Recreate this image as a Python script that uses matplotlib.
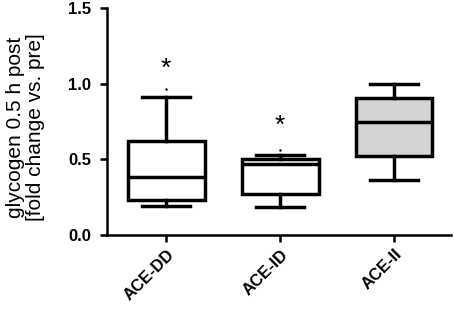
import numpy as np
from matplotlib import pyplot as plt
from matplotlib.transforms import ScaledTranslation

# data
groups = ["ACE-DD", "ACE-ID", "ACE-II"]
whislo = [0.19, 0.185, 0.364]
q1 = [0.231, 0.27, 0.522]
med = [0.383, 0.469, 0.747]
q3 = [0.62, 0.502, 0.905]
whishi = [0.912, 0.529, 1.0]
outliers = [[0.965], [0.56], []]
star_y = [1.10, 0.72, None]
fills = ["white", "white", "#d4d4d4"]

plt.rcParams['font.family'] = ['Liberation Sans', 'DejaVu Sans']

fig = plt.figure(figsize=(4.54, 3.14), dpi=100)
ax = fig.add_axes([107/454, 1-235/314, (451-107)/454, (235-8)/314])

stats = []
for i in range(len(groups)):
    stats.append(dict(whislo=whislo[i], q1=q1[i], med=med[i], q3=q3[i],
                      whishi=whishi[i], fliers=outliers[i], label=groups[i]))

pos = np.arange(1, len(groups)+1)
lw = 2.5
bp = ax.bxp(stats, positions=pos, widths=0.675, patch_artist=True, showfliers=True,
            boxprops=dict(linewidth=lw, edgecolor='black'),
            medianprops=dict(linewidth=lw, color='black'),
            whiskerprops=dict(linewidth=lw, color='black'),
            capprops=dict(linewidth=lw, color='black'),
            flierprops=dict(marker='.', markersize=1.5, markerfacecolor='black',
                            markeredgecolor='black'),
            capwidths=0.42)
for patch, c in zip(bp['boxes'], fills):
    patch.set_facecolor(c)

for x, y in zip(pos, star_y):
    if y is not None:
        ax.text(x, y, "*", ha='center', va='center', fontsize=19)

ax.set_xlim(0.48, 3.5)
ax.set_ylim(0, 1.5)
ax.set_yticks([0.0, 0.5, 1.0, 1.5])
ax.set_yticklabels(["0.0", "0.5", "1.0", "1.5"], fontsize=12, fontweight='bold')
ax.set_xticks(pos)
ax.set_xticklabels(groups, rotation=45, ha='right', rotation_mode='anchor',
                   fontsize=12, fontweight='bold')
for lab in ax.get_xticklabels():
    lab.set_transform(lab.get_transform() + ScaledTranslation(-0.09, -0.07, fig.dpi_scale_trans))
ax.tick_params(width=1.8, length=5)
ax.tick_params(axis='y', pad=6.5)
ax.spines['top'].set_visible(False)
ax.spines['right'].set_visible(False)
ax.spines['left'].set_linewidth(1.8)
ax.spines['bottom'].set_linewidth(1.8)
ax.set_ylabel("glycogen 0.5 h post\n[fold change vs. pre]", fontsize=15,
              linespacing=1.1)
ax.yaxis.set_label_coords(-0.18, 0.476)

fig.savefig("out.png", dpi=100)
